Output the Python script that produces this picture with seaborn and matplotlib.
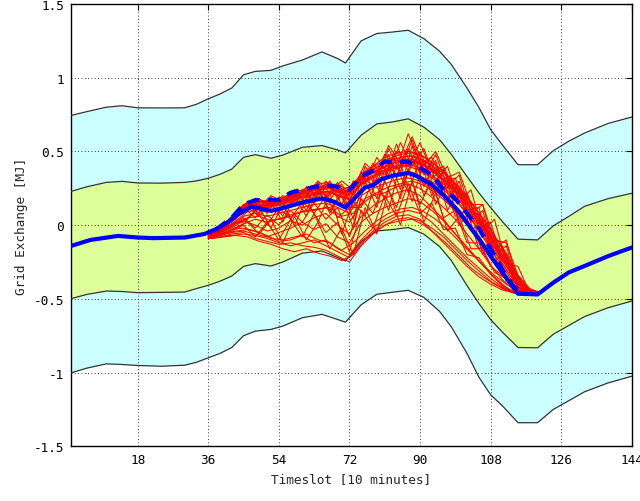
import numpy as np
import pandas as pd
import seaborn as sns
import matplotlib
matplotlib.use("Agg")
import matplotlib.pyplot as plt

# band boundaries
band_x = [1, 5, 10, 14, 18, 24, 30, 33, 36, 39, 42, 45, 48, 52, 55, 60, 65, 69, 71, 75,
          79, 83, 87, 91, 95, 98, 102, 105, 108, 111, 115, 120, 124, 128, 132, 138, 144]
outer_hi = [0.744, 0.77, 0.80, 0.81, 0.796, 0.795, 0.796, 0.82, 0.857, 0.89, 0.93, 1.02, 1.043,
            1.05, 1.08, 1.12, 1.175, 1.13, 1.10, 1.25, 1.30, 1.31, 1.322, 1.265, 1.18, 1.09,
            0.93, 0.80, 0.65, 0.545, 0.41, 0.41, 0.505, 0.57, 0.625, 0.69, 0.733]
inner_hi = [0.229, 0.26, 0.29, 0.297, 0.286, 0.285, 0.29, 0.30, 0.318, 0.345, 0.38, 0.46, 0.478,
            0.454, 0.475, 0.528, 0.54, 0.51, 0.49, 0.61, 0.687, 0.70, 0.721, 0.665, 0.58, 0.48,
            0.33, 0.22, 0.12, 0.025, -0.095, -0.10, -0.005, 0.06, 0.128, 0.18, 0.216]
inner_lo = [-0.499, -0.47, -0.447, -0.45, -0.458, -0.456, -0.454, -0.43, -0.408, -0.38, -0.345,
            -0.28, -0.261, -0.277, -0.25, -0.19, -0.175, -0.22, -0.243, -0.11, -0.039, -0.03,
            -0.016, -0.061, -0.145, -0.24, -0.41, -0.53, -0.64, -0.725, -0.83, -0.832, -0.74,
            -0.68, -0.62, -0.56, -0.515]
outer_lo = [-1.002, -0.97, -0.941, -0.945, -0.952, -0.957, -0.95, -0.93, -0.90, -0.87, -0.83,
            -0.75, -0.719, -0.707, -0.685, -0.628, -0.605, -0.64, -0.658, -0.54, -0.469, -0.455,
            -0.442, -0.49, -0.585, -0.69, -0.87, -1.03, -1.15, -1.225, -1.34, -1.34, -1.25,
            -1.19, -1.13, -1.07, -1.025]

# blue mean line
mean_x = [1, 6, 13, 18, 22, 30, 35, 38, 41, 44, 47, 52, 54, 60, 65, 68, 71, 76, 78, 80, 83,
          87, 89, 93, 96, 100, 103, 105, 108, 111, 115, 120, 124, 128, 132, 138, 144]
mean_y = [-0.141, -0.10, -0.073, -0.084, -0.088, -0.084, -0.06, -0.027, 0.02, 0.08, 0.125,
          0.097, 0.109, 0.154, 0.181, 0.16, 0.12, 0.256, 0.27, 0.31, 0.335, 0.354, 0.335,
          0.275, 0.205, 0.09, -0.02, -0.09, -0.21, -0.32, -0.465, -0.47, -0.39, -0.32,
          -0.277, -0.21, -0.152]

# blue dashed line
dash_x = [38, 42, 45, 48, 51, 54, 57, 60, 63, 66, 69, 72, 75, 78, 81, 84, 87, 90, 93, 96,
          99, 102, 105, 108, 111, 114, 117]
dash_y = [-0.03, 0.05, 0.14, 0.17, 0.17, 0.17, 0.22, 0.24, 0.26, 0.27, 0.26, 0.24, 0.33,
          0.37, 0.43, 0.43, 0.43, 0.39, 0.34, 0.24, 0.18, 0.08, -0.02, -0.16, -0.30, -0.42, -0.47]

# red scenario lines, first group sampled at 36, 39, ..., 120
scen_x_a = list(range(36, 121, 3))
scenarios_a = [
    [-0.07,-0.03,0.04,0.11,0.14,0.12,0.14,0.17,0.19,0.21,0.23,0.20,0.18,0.29,0.33,0.37,0.40,0.41,0.39,0.34,0.28,0.20,0.10,-0.01,-0.13,-0.26,-0.38,-0.45,-0.47],
    [-0.08,-0.02,0.06,0.13,0.16,0.15,0.17,0.20,0.23,0.25,0.27,0.26,0.22,0.33,0.38,0.43,0.45,0.47,0.45,0.40,0.33,0.25,0.15,0.03,-0.09,-0.22,-0.35,-0.44,-0.47],
    [-0.07,-0.04,0.03,0.09,0.15,0.08,0.19,0.12,0.24,0.15,0.30,0.18,0.25,0.27,0.42,0.30,0.55,0.36,0.50,0.32,0.38,0.18,0.22,-0.02,0.02,-0.24,-0.30,-0.45,-0.47],
    [-0.06,-0.02,0.05,0.12,0.13,0.14,0.16,0.18,0.21,0.22,0.25,0.24,0.21,0.31,0.36,0.40,0.44,0.44,0.42,0.37,0.30,0.22,0.12,0.01,-0.11,-0.24,-0.36,-0.45,-0.47],
    [-0.08,-0.03,0.04,0.14,0.10,0.17,0.13,0.22,0.17,0.26,0.20,0.29,0.16,0.36,0.30,0.48,0.38,0.62,0.42,0.46,0.30,0.32,0.10,0.12,-0.15,-0.14,-0.36,-0.42,-0.47],
    [-0.07,-0.03,0.05,0.11,0.15,0.13,0.15,0.19,0.22,0.24,0.26,0.23,0.20,0.32,0.35,0.39,0.42,0.45,0.43,0.38,0.31,0.23,0.14,0.02,-0.10,-0.23,-0.36,-0.44,-0.47],
    [-0.06,-0.01,0.02,0.12,0.05,0.16,0.09,0.21,0.14,0.27,0.19,0.25,0.10,0.34,0.26,0.45,0.33,0.52,0.35,0.42,0.24,0.28,0.06,0.08,-0.18,-0.16,-0.38,-0.43,-0.47],
    [-0.08,-0.04,0.03,0.10,0.13,0.12,0.14,0.16,0.19,0.20,0.22,0.21,0.17,0.28,0.32,0.36,0.39,0.40,0.37,0.32,0.26,0.18,0.08,-0.04,-0.16,-0.28,-0.40,-0.46,-0.47],
    [-0.07,-0.02,0.06,0.14,0.16,0.16,0.18,0.21,0.24,0.27,0.29,0.27,0.24,0.35,0.40,0.46,0.49,0.50,0.48,0.43,0.36,0.27,0.17,0.05,-0.07,-0.20,-0.33,-0.43,-0.47],
    [-0.06,-0.03,0.04,0.08,0.14,0.11,0.18,0.15,0.20,0.18,0.28,0.22,0.26,0.30,0.38,0.34,0.50,0.40,0.56,0.36,0.40,0.22,0.20,0.02,-0.02,-0.22,-0.32,-0.44,-0.47],
    [-0.08,-0.05,0.00,0.06,0.08,0.06,0.08,0.10,0.12,0.14,0.15,0.12,0.08,0.20,0.25,0.28,0.31,0.32,0.30,0.25,0.19,0.10,0.00,-0.11,-0.22,-0.33,-0.42,-0.46,-0.47],
    [-0.08,-0.04,0.01,0.02,0.10,0.00,0.12,0.04,0.16,0.08,0.20,0.05,0.12,0.12,0.30,0.18,0.40,0.22,0.45,0.20,0.30,0.06,0.10,-0.16,-0.12,-0.35,-0.38,-0.47,-0.47],
    [-0.09,-0.06,-0.03,0.01,0.04,0.02,0.04,0.06,0.09,0.10,0.12,0.06,0.02,0.14,0.20,0.22,0.26,0.28,0.25,0.19,0.12,0.04,-0.06,-0.16,-0.27,-0.37,-0.44,-0.47,-0.47],
    [-0.08,-0.07,-0.05,-0.04,-0.06,-0.08,-0.05,-0.02,0.02,-0.03,0.01,-0.08,-0.12,0.02,0.08,0.12,0.15,0.18,0.16,0.10,0.03,-0.06,-0.15,-0.24,-0.33,-0.41,-0.46,-0.47,-0.47],
    [-0.09,-0.08,-0.06,-0.05,-0.09,-0.11,-0.13,-0.12,-0.14,-0.15,-0.17,-0.21,-0.25,-0.14,-0.06,0.00,0.04,0.05,0.03,-0.02,-0.08,-0.16,-0.24,-0.31,-0.38,-0.43,-0.46,-0.47,-0.47],
    [-0.09,-0.07,-0.04,0.00,-0.08,0.02,-0.10,0.04,-0.08,0.08,-0.05,0.02,-0.18,0.10,-0.02,0.20,0.06,0.28,0.08,0.15,-0.03,-0.02,-0.20,-0.22,-0.33,-0.40,-0.46,-0.47,-0.47],
    [-0.09,-0.07,-0.03,-0.02,-0.04,-0.07,-0.11,-0.10,-0.07,-0.12,-0.10,-0.16,-0.20,-0.10,-0.02,0.04,0.08,0.10,0.08,0.02,-0.06,-0.14,-0.22,-0.29,-0.36,-0.42,-0.46,-0.47,-0.47],
    [-0.08,-0.05,-0.02,0.03,0.00,-0.04,-0.02,0.03,0.00,0.05,0.08,0.00,-0.06,0.06,0.13,0.18,0.22,0.24,0.20,0.12,0.04,-0.06,-0.15,-0.24,-0.33,-0.41,-0.45,-0.47,-0.47],
    [-0.08,-0.05,-0.01,0.05,-0.02,0.07,0.00,0.10,0.02,0.15,0.04,0.12,-0.08,0.18,0.08,0.30,0.12,0.38,0.14,0.30,0.05,0.10,-0.12,-0.12,-0.28,-0.34,-0.44,-0.46,-0.47],
    [-0.09,-0.08,-0.07,-0.06,-0.07,-0.09,-0.12,-0.14,-0.12,-0.10,-0.14,-0.18,-0.22,-0.12,-0.04,0.02,0.06,0.07,0.04,-0.04,-0.12,-0.20,-0.28,-0.35,-0.40,-0.44,-0.46,-0.47,-0.47],
]

# second group sampled at 37, 40, ..., 121
scen_x_b = list(range(37, 122, 3))
scenarios_b = [
    [-0.06,-0.01,0.07,0.13,0.16,0.14,0.17,0.19,0.22,0.24,0.25,0.21,0.25,0.33,0.37,0.41,0.44,0.45,0.41,0.37,0.31,0.23,0.13,0.02,-0.10,-0.22,-0.36,-0.45,-0.46],
    [-0.07,0.00,0.04,0.16,0.10,0.19,0.12,0.24,0.15,0.29,0.17,0.28,0.12,0.40,0.28,0.52,0.36,0.58,0.34,0.48,0.26,0.34,0.08,0.14,-0.16,-0.10,-0.40,-0.44,-0.46],
    [-0.07,-0.02,0.05,0.12,0.14,0.13,0.16,0.18,0.20,0.22,0.23,0.19,0.22,0.31,0.35,0.39,0.41,0.43,0.40,0.35,0.29,0.21,0.11,0.00,-0.12,-0.24,-0.38,-0.45,-0.46],
    [-0.06,-0.02,0.08,0.10,0.18,0.12,0.20,0.14,0.26,0.18,0.30,0.14,0.30,0.28,0.46,0.34,0.56,0.40,0.52,0.30,0.40,0.16,0.24,-0.04,0.04,-0.26,-0.28,-0.46,-0.46],
    [-0.07,-0.01,0.06,0.14,0.17,0.16,0.18,0.21,0.24,0.26,0.27,0.24,0.27,0.36,0.41,0.45,0.48,0.49,0.46,0.41,0.34,0.26,0.16,0.05,-0.07,-0.19,-0.34,-0.44,-0.46],
    [-0.07,-0.03,0.02,0.04,0.12,-0.02,0.14,0.00,0.18,0.02,0.22,-0.06,0.16,0.06,0.32,0.10,0.42,0.16,0.44,0.14,0.30,0.00,0.10,-0.20,-0.10,-0.38,-0.36,-0.47,-0.46],
    [-0.08,-0.03,0.03,0.09,0.11,0.09,0.11,0.13,0.15,0.17,0.18,0.13,0.17,0.25,0.29,0.32,0.35,0.36,0.32,0.28,0.22,0.14,0.04,-0.07,-0.18,-0.30,-0.42,-0.46,-0.46],
    [-0.07,-0.01,0.06,0.15,0.08,0.18,0.06,0.22,0.10,0.26,0.08,0.24,0.04,0.36,0.18,0.48,0.24,0.54,0.26,0.44,0.16,0.30,0.02,0.10,-0.20,-0.14,-0.42,-0.45,-0.46],
    [-0.08,-0.06,-0.04,-0.03,-0.05,-0.09,-0.10,-0.08,-0.06,-0.10,-0.12,-0.17,-0.12,-0.04,0.03,0.08,0.11,0.12,0.09,0.04,-0.03,-0.11,-0.19,-0.27,-0.34,-0.40,-0.45,-0.47,-0.46],
    [-0.08,-0.05,-0.02,0.02,-0.06,0.04,-0.12,0.06,-0.10,0.02,-0.16,-0.02,-0.20,0.12,-0.06,0.24,0.00,0.30,0.02,0.22,-0.04,0.06,-0.16,-0.16,-0.32,-0.36,-0.45,-0.46,-0.46],
    [-0.08,-0.04,0.01,0.05,0.06,0.03,0.05,0.08,0.10,0.11,0.12,0.06,0.08,0.18,0.22,0.26,0.28,0.30,0.27,0.22,0.15,0.07,-0.03,-0.14,-0.25,-0.35,-0.44,-0.46,-0.46],
    [-0.07,-0.02,0.05,0.12,0.06,0.16,0.02,0.20,0.06,0.24,0.10,0.20,-0.02,0.30,0.12,0.40,0.18,0.46,0.20,0.38,0.10,0.24,-0.04,0.04,-0.24,-0.20,-0.43,-0.45,-0.46],
    [-0.09,-0.08,-0.07,-0.08,-0.11,-0.13,-0.16,-0.18,-0.16,-0.19,-0.21,-0.24,-0.20,-0.10,-0.03,0.01,0.03,0.04,0.00,-0.06,-0.13,-0.21,-0.29,-0.35,-0.40,-0.44,-0.46,-0.47,-0.46],
    [-0.06,-0.01,0.06,0.13,0.15,0.15,0.17,0.20,0.23,0.25,0.26,0.22,0.26,0.34,0.39,0.43,0.46,0.47,0.44,0.39,0.33,0.25,0.15,0.04,-0.08,-0.20,-0.35,-0.44,-0.46],
    [-0.06,0.00,0.07,0.16,0.12,0.20,0.16,0.24,0.20,0.30,0.22,0.30,0.24,0.42,0.34,0.54,0.42,0.60,0.40,0.50,0.32,0.36,0.14,0.14,-0.10,-0.12,-0.34,-0.43,-0.46],
]

x_ticks = [18, 36, 54, 72, 90, 108, 126, 144]
y_ticks = [-1.5, -1, -0.5, 0, 0.5, 1, 1.5]
y_labels = ["-1.5", "-1", "-0.5", "0", "0.5", "1", "1.5"]

sns.set_style("white")
plt.rcParams["font.family"] = ["DejaVu Sans Mono", "DejaVu Sans"]
plt.rcParams["font.size"] = 9.2

fig = plt.figure(figsize=(6.4, 5.02), dpi=100)
ax = fig.add_axes([0.111, 0.109, 0.876, 0.881])

ax.fill_between(band_x, outer_lo, outer_hi, color="#ccffff", lw=0, zorder=1)
ax.fill_between(band_x, inner_lo, inner_hi, color="#ddff99", lw=0, zorder=1.1)
for b in [outer_hi, inner_hi, inner_lo, outer_lo]:
    sns.lineplot(x=band_x, y=b, color="#333333", lw=0.9, ax=ax, zorder=3)

rows = []
for run, s in enumerate(scenarios_a):
    rows += [(t, v, run) for t, v in zip(scen_x_a, s)]
for run, s in enumerate(scenarios_b):
    rows += [(t, v, 100 + run) for t, v in zip(scen_x_b, s)]
scen_df = pd.DataFrame(rows, columns=["t", "v", "run"])
sns.lineplot(data=scen_df, x="t", y="v", units="run", estimator=None,
             color="red", lw=0.75, ax=ax, zorder=3)

sns.lineplot(x=mean_x, y=mean_y, color="blue", lw=3, ax=ax, zorder=4)
sns.lineplot(x=dash_x, y=dash_y, color="blue", lw=3, ax=ax, zorder=4,
             dashes=False, linestyle=(0, (3, 2)))

ax.set_xlim(1, 144)
ax.set_ylim(-1.5, 1.5)
ax.set_xticks(x_ticks)
ax.set_yticks(y_ticks)
ax.set_yticklabels(y_labels)
ax.grid(True, color="black", linestyle=(0, (1, 3)), lw=0.6)
ax.set_axisbelow(False)
ax.tick_params(direction="in", length=4, top=True, right=True, colors="black", pad=5)
for s in ax.spines.values():
    s.set_color("black")
    s.set_linewidth(1.0)
ax.set_xlabel("Timeslot [10 minutes]")
ax.set_ylabel("Grid Exchange [MJ]")

fig.savefig("out.png", dpi=100)
